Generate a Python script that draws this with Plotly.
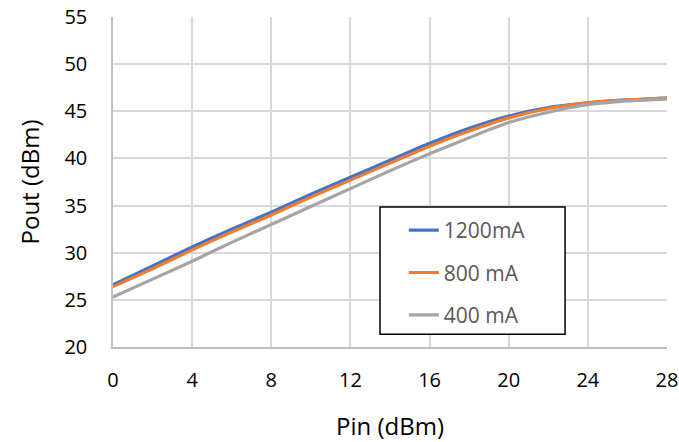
import plotly.graph_objects as go

# Input power sweep (dBm)
pin = [0, 2, 4, 6, 8, 10, 12, 14, 16, 18, 20, 22, 24, 26, 28]

# Output power (dBm) at three bias currents
pout_1200 = [26.6, 28.6, 30.6, 32.5, 34.3, 36.2, 38.0, 39.8, 41.6, 43.2, 44.5, 45.4, 45.9, 46.2, 46.4]
pout_800 = [26.4, 28.3, 30.3, 32.2, 34.0, 35.9, 37.7, 39.5, 41.3, 42.9, 44.3, 45.3, 45.9, 46.2, 46.4]
pout_400 = [25.3, 27.2, 29.1, 31.1, 33.0, 34.9, 36.8, 38.7, 40.5, 42.2, 43.8, 44.9, 45.7, 46.1, 46.3]

series = [
    ("1200mA", pout_1200, "#4472C4"),
    ("800 mA", pout_800, "#ED7D31"),
    ("400 mA", pout_400, "#A5A5A5"),
]

x_ticks = [0, 4, 8, 12, 16, 20, 24, 28]
y_ticks = [20, 25, 30, 35, 40, 45, 50, 55]

FONT = "Open Sans"

fig = go.Figure()
for name, vals, color in series:
    fig.add_trace(go.Scatter(
        x=pin, y=vals, name=name, mode="lines",
        line=dict(color=color, width=3.2, shape="spline", smoothing=0.6),
        legendgroup=name,
    ))

# Framed legend box
fig.add_shape(
    type="rect", xref="paper", yref="paper",
    x0=0.482, x1=0.816, y0=0.039, y1=0.424,
    line=dict(color="#000000", width=1.5), fillcolor="white", layer="above",
)

fig.update_layout(
    width=679, height=442,
    margin=dict(l=113, r=12, t=17, b=95),
    paper_bgcolor="white",
    plot_bgcolor="white",
    font=dict(family=FONT, size=20, color="#000000"),
    showlegend=True,
    legend=dict(
        x=0.525, y=0.415, xanchor="left", yanchor="top",
        borderwidth=0, bgcolor="rgba(0,0,0,0)",
        font=dict(family=FONT, size=21, color="#595959"),
        tracegroupgap=12,
    ),
    xaxis=dict(
        range=[0, 28], tickvals=x_ticks, automargin=False,
        showgrid=True, gridcolor="#D9D9D9", gridwidth=1.5,
        showline=True, linecolor="#BFBFBF", linewidth=1.5,
        zeroline=False, ticks="", ticklabelstandoff=14,
        title=dict(text="Pin (dBm)", font=dict(family=FONT, size=24, color="#000000"), standoff=28),
        tickfont=dict(size=20),
    ),
    yaxis=dict(
        range=[20, 55], tickvals=y_ticks, automargin=False,
        showgrid=True, gridcolor="#D9D9D9", gridwidth=1.5,
        showline=True, linecolor="#BFBFBF", linewidth=1.5,
        zeroline=False, ticks="", ticklabelstandoff=20,
        title=dict(text="Pout (dBm)", font=dict(family=FONT, size=24, color="#000000"), standoff=18),
        tickfont=dict(size=20),
    ),
)

fig.write_html("out.html")
